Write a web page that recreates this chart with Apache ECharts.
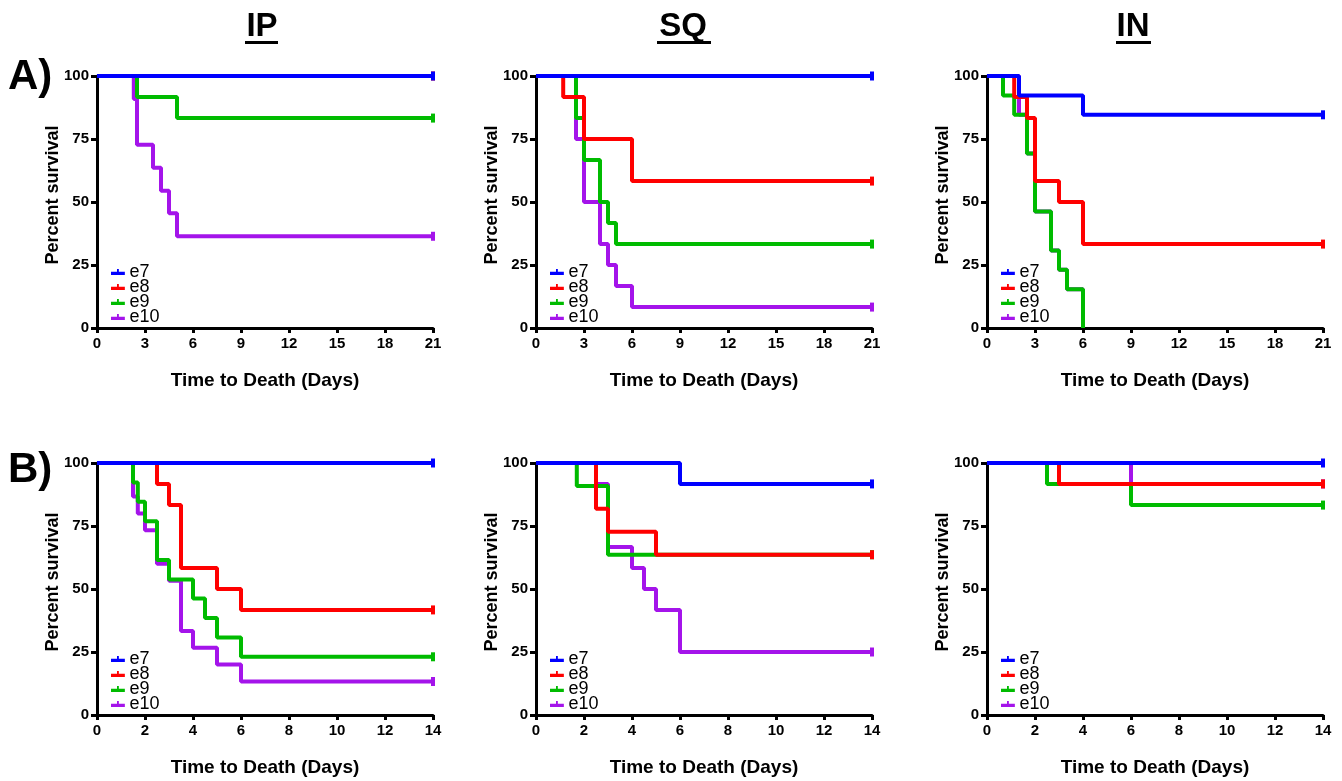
<!DOCTYPE html>
<html>
<head>
<meta charset="utf-8">
<script src="https://cdn.jsdelivr.net/npm/echarts@6/dist/echarts.min.js"></script>
<style>
  html, body { margin: 0; padding: 0; background: #fff; }
  #main { width: 1342px; height: 781px; }
</style>
</head>
<body>
<div id="main"></div>
<script>
// survival curves: event times (days) and percent survival after each event
// row A (21 days)
var aIP_e7_t = [0, 21], aIP_e7_s = [100, 100];
var aIP_e8_t = [0, 21], aIP_e8_s = [100, 100];
var aIP_e9_t = [0, 2.5, 5, 21], aIP_e9_s = [100, 91.7, 83.3, 83.3];
var aIP_e10_t = [0, 2.3, 2.5, 3.5, 4, 4.5, 5, 21], aIP_e10_s = [100, 90.9, 72.7, 63.6, 54.5, 45.5, 36.4, 36.4];

var aSQ_e7_t = [0, 21], aSQ_e7_s = [100, 100];
var aSQ_e8_t = [0, 1.7, 3, 6, 21], aSQ_e8_s = [100, 91.7, 75, 58.3, 58.3];
var aSQ_e9_t = [0, 2.5, 3, 4, 4.5, 5, 21], aSQ_e9_s = [100, 83.3, 66.7, 50, 41.7, 33.3, 33.3];
var aSQ_e10_t = [0, 2.5, 3, 4, 4.5, 5, 6, 21], aSQ_e10_s = [100, 75, 50, 33.3, 25, 16.7, 8.3, 8.3];

var aIN_e7_t = [0, 2, 6, 21], aIN_e7_s = [100, 92.3, 84.6, 84.6];
var aIN_e8_t = [0, 1.7, 2.5, 3, 4.5, 6, 21], aIN_e8_s = [100, 91.7, 83.3, 58.3, 50, 33.3, 33.3];
var aIN_e9_t = [0, 1, 1.7, 2.5, 3, 4, 4.5, 5, 6], aIN_e9_s = [100, 92.3, 84.6, 69.2, 46.2, 30.8, 23.1, 15.4, 0];
var aIN_e10_t = [0, 2, 2.5, 3, 4, 4.5, 5, 6], aIN_e10_s = [100, 84.6, 69.2, 46.2, 30.8, 23.1, 15.4, 0];

// row B (14 days)
var bIP_e7_t = [0, 14], bIP_e7_s = [100, 100];
var bIP_e8_t = [0, 2.5, 3, 3.5, 5, 6, 14], bIP_e8_s = [100, 91.7, 83.3, 58.3, 50, 41.7, 41.7];
var bIP_e9_t = [0, 1.5, 1.7, 2, 2.5, 3, 4, 4.5, 5, 6, 14], bIP_e9_s = [100, 92.3, 84.6, 76.9, 61.5, 53.8, 46.2, 38.5, 30.8, 23.1, 23.1];
var bIP_e10_t = [0, 1.5, 1.7, 2, 2.5, 3, 3.5, 4, 5, 6, 14], bIP_e10_s = [100, 86.7, 80, 73.3, 60, 53.3, 33.3, 26.7, 20, 13.3, 13.3];

var bSQ_e7_t = [0, 6, 14], bSQ_e7_s = [100, 91.7, 91.7];
var bSQ_e8_t = [0, 2.5, 3, 5, 14], bSQ_e8_s = [100, 81.8, 72.7, 63.6, 63.6];
var bSQ_e9_t = [0, 1.7, 3, 14], bSQ_e9_s = [100, 90.9, 63.6, 63.6];
var bSQ_e10_t = [0, 2.5, 3, 4, 4.5, 5, 6, 14], bSQ_e10_s = [100, 91.7, 66.7, 58.3, 50, 41.7, 25, 25];

var bIN_e7_t = [0, 14], bIN_e7_s = [100, 100];
var bIN_e8_t = [0, 3, 14], bIN_e8_s = [100, 91.7, 91.7];
var bIN_e9_t = [0, 2.5, 6, 14], bIN_e9_s = [100, 91.7, 83.3, 83.3];
var bIN_e10_t = [0, 6, 14], bIN_e10_s = [100, 91.7, 91.7];

var yTicks = [0, 25, 50, 75, 100];
var groupNames = ['e7', 'e8', 'e9', 'e10'];
var colTitles = ['IP', 'SQ', 'IN'];
var rowLabels = ['A)', 'B)'];

var colors = { e7: '#0000ff', e8: '#ff0000', e9: '#00bb00', e10: '#a414ea' };
var FONT = "'Liberation Sans', Arial, sans-serif";

var panels = [
  { row: 0, col: 0, max: 21, step: 3, d: { e7: [aIP_e7_t, aIP_e7_s], e8: [aIP_e8_t, aIP_e8_s], e9: [aIP_e9_t, aIP_e9_s], e10: [aIP_e10_t, aIP_e10_s] } },
  { row: 0, col: 1, max: 21, step: 3, d: { e7: [aSQ_e7_t, aSQ_e7_s], e8: [aSQ_e8_t, aSQ_e8_s], e9: [aSQ_e9_t, aSQ_e9_s], e10: [aSQ_e10_t, aSQ_e10_s] } },
  { row: 0, col: 2, max: 21, step: 3, d: { e7: [aIN_e7_t, aIN_e7_s], e8: [aIN_e8_t, aIN_e8_s], e9: [aIN_e9_t, aIN_e9_s], e10: [aIN_e10_t, aIN_e10_s] } },
  { row: 1, col: 0, max: 14, step: 2, d: { e7: [bIP_e7_t, bIP_e7_s], e8: [bIP_e8_t, bIP_e8_s], e9: [bIP_e9_t, bIP_e9_s], e10: [bIP_e10_t, bIP_e10_s] } },
  { row: 1, col: 1, max: 14, step: 2, d: { e7: [bSQ_e7_t, bSQ_e7_s], e8: [bSQ_e8_t, bSQ_e8_s], e9: [bSQ_e9_t, bSQ_e9_s], e10: [bSQ_e10_t, bSQ_e10_s] } },
  { row: 1, col: 2, max: 14, step: 2, d: { e7: [bIN_e7_t, bIN_e7_s], e8: [bIN_e8_t, bIN_e8_s], e9: [bIN_e9_t, bIN_e9_s], e10: [bIN_e10_t, bIN_e10_s] } }
];

var gridLeft = [97, 536, 987];
var gridTop = [76, 463];
var gridW = 336, gridH = 252;

var grids = [], xAxes = [], yAxes = [], series = [], legends = [];

panels.forEach(function (p, i) {
  var left = gridLeft[p.col], top = gridTop[p.row];
  grids.push({ left: left, top: top, width: gridW, height: gridH });
  xAxes.push({
    gridIndex: i, type: 'value', min: 0, max: p.max, interval: p.step,
    name: 'Time to Death (Days)', nameLocation: 'middle', nameGap: 43,
    nameTextStyle: { fontFamily: FONT, fontWeight: 'bold', fontSize: 19, color: '#000' },
    axisLine: { show: true, lineStyle: { color: '#000', width: 3 } },
    axisTick: { show: true, length: 5, lineStyle: { color: '#000', width: 3 } },
    axisLabel: { fontFamily: FONT, fontWeight: 'bold', fontSize: 15, color: '#000', margin: 8 },
    splitLine: { show: false }
  });
  yAxes.push({
    gridIndex: i, type: 'value', min: yTicks[0], max: yTicks[yTicks.length - 1], interval: yTicks[1] - yTicks[0],
    name: 'Percent survival', nameLocation: 'middle', nameGap: 35, nameMoveOverlap: false,
    nameTextStyle: { fontFamily: FONT, fontWeight: 'bold', fontSize: 18, color: '#000', padding: [0, 0, 0, 14] },
    axisLine: { show: true, lineStyle: { color: '#000', width: 3 } },
    axisTick: { show: true, length: 6, lineStyle: { color: '#000', width: 3 } },
    axisLabel: { fontFamily: FONT, fontWeight: 'bold', fontSize: 15, color: '#000', margin: 8 },
    splitLine: { show: false }
  });
  // draw e10 first so e7 sits on top
  groupNames.slice().reverse().forEach(function (g) {
    var t = p.d[g][0], s = p.d[g][1];
    var data = t.map(function (x, k) {
      var pt = { value: [x, s[k]] };
      if (k === t.length - 1 && s[k] > 0) {
        pt.symbol = 'rect';
        pt.symbolSize = [4, 9];
      }
      return pt;
    });
    series.push({
      name: g, type: 'line', xAxisIndex: i, yAxisIndex: i,
      step: 'end', symbol: 'none', showSymbol: true,
      lineStyle: { color: colors[g], width: 4 },
      itemStyle: { color: colors[g] },
      data: data, animation: false
    });
  });
  legends.push({
    data: groupNames, orient: 'vertical', left: left + 9, top: top + 182,
    itemWidth: 15, itemHeight: 6, itemGap: -3,
    icon: 'path://M0,3h6.5v-3h2v3h6.5v3.5h-15z',
    textStyle: { fontFamily: FONT, fontSize: 18, color: '#000', padding: [0, 0, 0, -1] },
    selectedMode: false
  });
});

var graphics = [];
var titleX = [262, 683, 1133];
var underline = [[245, 33], [657, 54], [1116, 35]];
colTitles.forEach(function (t, c) {
  graphics.push({
    type: 'text', x: titleX[c], y: 10,
    style: { text: t, font: 'bold 33px ' + FONT, fill: '#000', align: 'center', verticalAlign: 'top' }
  });
  graphics.push({ type: 'rect', shape: { x: underline[c][0], y: 41, width: underline[c][1], height: 3 }, style: { fill: '#000' } });
});
graphics.push({ type: 'text', x: 8, y: 56, style: { text: rowLabels[0], font: 'bold 42px ' + FONT, fill: '#000', verticalAlign: 'top' } });
graphics.push({ type: 'text', x: 8, y: 449, style: { text: rowLabels[1], font: 'bold 42px ' + FONT, fill: '#000', verticalAlign: 'top' } });

var myChart = echarts.init(document.getElementById('main'));
var option = {
  backgroundColor: '#fff',
  animation: false,
  grid: grids,
  xAxis: xAxes,
  yAxis: yAxes,
  legend: legends,
  series: series,
  graphic: graphics
};
myChart.setOption(option);
</script>
</body>
</html>
